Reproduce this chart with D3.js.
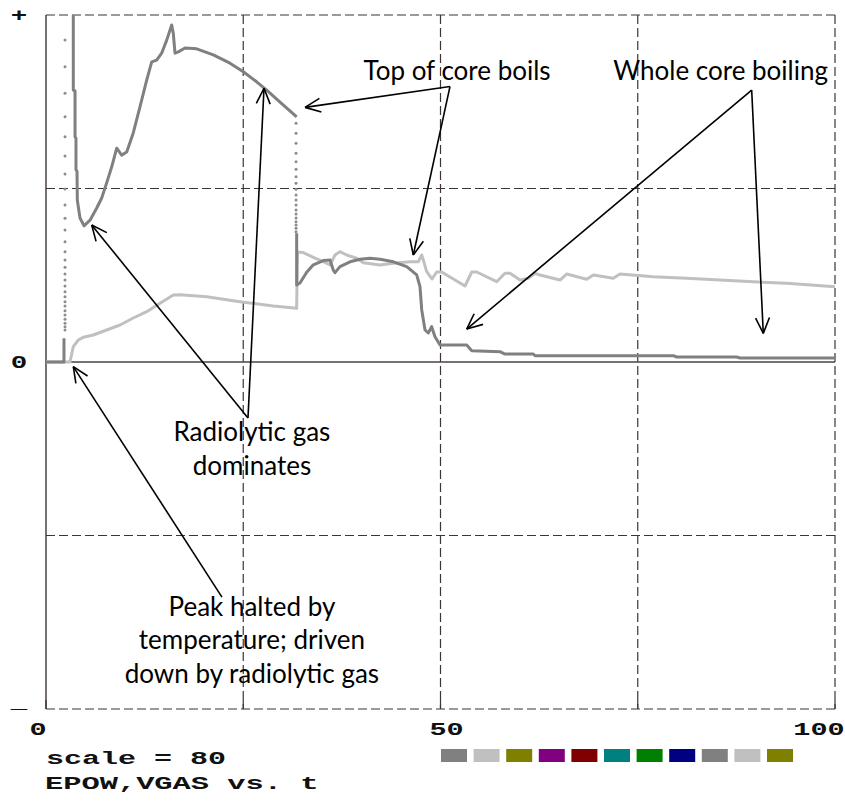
<!DOCTYPE html>
<html>
<head>
<meta charset="utf-8">
<script src="https://cdn.jsdelivr.net/npm/d3@7"></script>
<style>
  html, body { margin: 0; padding: 0; background: #fff; }
  svg { display: block; }
</style>
</head>
<body>
<svg id="chart" width="845" height="804"></svg>
<script>
// ---- data -------------------------------------------------------------
// EPOW (power) trace: time t and value in plot units (full scale = 80)
const epowT = [0, 2.28, 2.28];
const epowV = [0, 0, 5.5];
// exponential power rise sampled at nearly constant t
const riseT = 2.41;
const riseV = [7.38, 8.14, 8.92, 9.84, 10.84, 11.83, 12.91, 13.9, 15.05, 16.21, 17.52, 18.9,
  20.29, 21.83, 23.52, 25.43, 27.74, 30.43, 33.13, 36.2, 39.88, 43.34, 47.49, 51.94,
  56.55, 61.95, 68.08, 74.24];
// main EPOW curve after the excursion comes back on scale
const epowMainT = [3.46, 3.46, 3.68, 3.68, 3.8, 3.8, 3.93, 3.97, 4.31, 4.82, 5.58, 6.43, 7.06,
  7.69, 8.33, 8.96, 9.59, 10.23, 11.06, 11.91, 12.76, 13.4, 14.03, 14.66, 15.3, 15.93,
  16.13, 16.35, 16.77, 17.62, 19.1, 21.2, 23.32, 25.01, 26.7, 27.97, 29.66, 31.77];
const epowMainV = [84, 62.7, 62.5, 51.9, 51.6, 44.3, 44.0, 37.3, 33.2, 31.4, 32.7, 35.5, 37.8,
  41.3, 45.0, 49.3, 47.7, 48.4, 52.8, 58.8, 65.0, 69.2, 69.6, 71.2, 74.2, 77.7,
  75.8, 71.2, 71.5, 72.4, 72.2, 70.8, 68.9, 66.9, 64.6, 62.7, 59.9, 56.5];
// fast power drop sampled at nearly constant t
const dropT = 31.69;
const dropV = [55.03, 52.73, 50.42, 48.12, 46.18, 44.43, 42.72, 41.2, 39.82, 38.5, 37.35,
  36.2, 35.04, 34.12, 33.2, 32.34, 31.58, 30.82, 30.04];
// EPOW after the drop
const epowTailT = [31.77, 31.77, 32.19, 33.04, 33.88, 35.15, 36.0, 36.41, 36.63, 37.26, 38.53,
  39.8, 41.06, 42.33, 44.02, 45.72, 46.98, 47.4, 47.62, 48.04, 48.45, 48.88, 49.3, 49.94,
  50.79, 53.32, 53.96, 57.54, 58.17, 61.76, 61.98, 79.51, 79.94, 87.54, 87.96, 100];
const epowTailV = [29.7, 17.75, 18.2, 20.7, 22.4, 23.4, 23.5, 21.2, 20.6, 22.0, 23.1,
  23.7, 23.9, 23.7, 23.1, 22.0, 20.1, 17.4, 12.0, 7.38, 6.69, 8.14, 5.83, 3.92,
  3.92, 3.92, 2.61, 2.37, 1.84, 1.84, 1.45, 1.45, 1.15, 1.15, 0.92, 0.92];

// VGAS (void / gas volume) trace
const vgasT = [0, 3.04, 3.46, 4.09, 4.73, 5.99, 7.69, 9.38, 11.06, 12.76, 14.45, 16.13, 16.98,
  20.37, 24.59, 28.81, 31.77, 31.88, 32.61, 33.88, 35.15, 36.0, 36.63, 37.26, 38.11,
  39.38, 40.22, 42.33, 44.02, 46.13, 47.19, 47.62, 47.82, 48.25, 48.92, 49.52, 50.15,
  51.2, 53.11, 53.96, 54.59, 57.12, 58.17, 58.81, 60.08, 61.13, 61.98, 62.61, 65.15,
  66.0, 68.53, 69.37, 71.9, 72.75, 76.97, 81.19, 85.42, 89.64, 93.87, 100];
const vgasV = [0, 0, 3.53, 5.07, 5.69, 6.22, 7.38, 8.53, 10.14, 11.6, 13.53, 15.45, 15.52,
  15.05, 13.9, 12.91, 12.38, 25.36, 25.24, 24.14, 23.12, 22.36, 24.67, 25.43, 24.67,
  23.91, 22.89, 22.36, 22.75, 23.12, 23.12, 24.67, 23.52, 20.82, 19.14, 20.75, 20.75,
  19.6, 17.52, 20.75, 20.75, 18.51, 20.45, 20.45, 18.9, 19.3, 20.45, 20.06, 18.9,
  20.29, 19.07, 20.06, 19.3, 20.29, 19.67, 19.3, 18.9, 18.51, 18.14, 17.36];

// axis labels
const xTickValues = [0, 50, 100];
const xGridValues = [0, 25, 50, 75, 100];
const yGridValues = [-80, -40, 0, 40, 80];
const yTickLabels = [{v: 80, text: "+"}, {v: 0, text: "0"}, {v: -80, text: "_"}];
const scaleText = "scale = 80";
const titleText = "EPOW,VGAS vs. t";

// palette swatches along the bottom
const swatchColors = ["#808080", "#c0c0c0", "#808000", "#800080", "#800000", "#008080",
  "#008000", "#000080", "#808080", "#c0c0c0", "#808000"];

// annotations: text lines, anchor (t, v) of the text, and arrow targets (t, v)
const notes = [
  {lines: ["Top of core boils"], at: [52.1, 65], from: [51.2, 63.5],
   targets: [[32.83, 58.7], [46.55, 24.67]]},
  {lines: ["Whole core boiling"], at: [85.5, 65], from: [89.44, 62.7],
   targets: [[53.32, 7.6], [90.91, 6.6]]},
  {lines: ["Radiolytic gas", "dominates"], at: [26.1, -18.3], from: [25.6, -12.9],
   targets: [[5.79, 31.6], [27.63, 63.1]]},
  {lines: ["Peak halted by", "temperature; driven", "down by radiolytic gas"], at: [26.1, -58.5],
   from: [22.3, -54.2], targets: [[3.46, -1.08]]}
];

// ---- drawing ----------------------------------------------------------
const svg = d3.select("#chart");
const plotLeft = 46, plotRight = 835, plotTop = 15, plotBottom = 709;
const x = d3.scaleLinear().domain([0, 100]).range([plotLeft, plotRight]);
const y = d3.scaleLinear().domain([-80, 80]).range([plotBottom, plotTop]);

const frameColor = "#3e3434";

svg.append("defs").append("clipPath").attr("id", "plotClip")
  .append("rect").attr("x", plotLeft).attr("y", plotTop)
  .attr("width", plotRight - plotLeft).attr("height", plotBottom - plotTop);

// dashed grid
const grid = svg.append("g");
grid.selectAll("line.v").data(xGridValues.slice(1)).join("line")
  .attr("x1", d => x(d)).attr("x2", d => x(d)).attr("y1", plotTop).attr("y2", plotBottom)
  .attr("stroke", frameColor).attr("stroke-width", 1.2).attr("stroke-dasharray", "9,4");
grid.selectAll("line.h").data(yGridValues.filter(d => d !== 0)).join("line")
  .attr("x1", plotLeft).attr("x2", plotRight).attr("y1", d => y(d)).attr("y2", d => y(d))
  .attr("stroke", frameColor).attr("stroke-width", 1.2).attr("stroke-dasharray", "9,4");
// solid ticks where grid lines meet the bottom edge
grid.selectAll("line.t").data(xGridValues).join("line")
  .attr("x1", d => x(d)).attr("x2", d => x(d)).attr("y1", plotBottom - 9).attr("y2", plotBottom)
  .attr("stroke", frameColor).attr("stroke-width", 1.2);
// left axis and zero line
svg.append("line").attr("x1", plotLeft).attr("x2", plotLeft).attr("y1", plotTop).attr("y2", plotBottom)
  .attr("stroke", frameColor).attr("stroke-width", 1.4);
svg.append("line").attr("x1", plotLeft).attr("x2", plotRight).attr("y1", y(0)).attr("y2", y(0))
  .attr("stroke", "#4a4242").attr("stroke-width", 1.6);

// traces
const line = d3.line().x(d => x(d[0])).y(d => y(d[1]));
const plot = svg.append("g").attr("clip-path", "url(#plotClip)");
const zip = (a, b) => a.map((t, i) => [t, b[i]]);

plot.append("path").datum(zip(vgasT, vgasV)).attr("d", line)
  .attr("fill", "none").attr("stroke", "#c0c0c0").attr("stroke-width", 3)
  .attr("stroke-linejoin", "round");

const epowStroke = {fill: "none", stroke: "#808080", "stroke-width": 3, "stroke-linejoin": "round"};
[zip(epowT, epowV), zip(epowMainT, epowMainV), zip(epowTailT, epowTailV)].forEach(seg => {
  const p = plot.append("path").datum(seg).attr("d", line);
  Object.entries(epowStroke).forEach(([k, v]) => p.attr(k, v));
});
plot.selectAll("circle.rise").data(riseV).join("circle").attr("class", "rise")
  .attr("cx", x(riseT)).attr("cy", d => y(d)).attr("r", 1.5).attr("fill", "#8c8c8c");
plot.selectAll("circle.drop").data(dropV).join("circle").attr("class", "drop")
  .attr("cx", x(dropT)).attr("cy", d => y(d)).attr("r", 1.5).attr("fill", "#8c8c8c");

// axis labels
const mono = "'Liberation Mono', 'Courier New', monospace";
const lab = svg.append("g").attr("font-family", mono).attr("font-weight", "bold")
  .attr("font-size", 19).attr("fill", "#111");
lab.selectAll("text.x").data(xTickValues).join("text").attr("class", "x")
  .attr("transform", d => `translate(${x(d) + (d === 0 ? -8 : d === 100 ? -16 : 6)},735) scale(1.5,1)`)
  .attr("text-anchor", "middle").text(d => d);
lab.selectAll("text.y").data(yTickLabels).join("text").attr("class", "y")
  .attr("transform", d => `translate(19,${y(d.v) + (d.text === "_" ? -1 : 6)}) scale(1.45,1)`)
  .attr("text-anchor", "middle").text(d => d.text);
lab.append("text").attr("transform", "translate(46,764) scale(1.58,1)").text(scaleText);
lab.append("text").attr("transform", "translate(45,789) scale(1.6,1)").text(titleText);

// palette swatches
svg.append("g").selectAll("rect").data(swatchColors).join("rect")
  .attr("x", (d, i) => 441 + i * 32.6).attr("y", 749).attr("width", 26).attr("height", 13)
  .attr("fill", d => d);

// annotations with open arrowheads
const ann = svg.append("g");
function arrow(g, x1, y1, x2, y2) {
  g.append("line").attr("x1", x1).attr("y1", y1).attr("x2", x2).attr("y2", y2)
    .attr("stroke", "#000").attr("stroke-width", 1.6);
  const a = Math.atan2(y1 - y2, x1 - x2), len = 17, spread = 0.42;
  [a - spread, a + spread].forEach(b => {
    g.append("line").attr("x1", x2).attr("y1", y2)
      .attr("x2", x2 + len * Math.cos(b)).attr("y2", y2 + len * Math.sin(b))
      .attr("stroke", "#000").attr("stroke-width", 1.6);
  });
}
notes.forEach(n => {
  n.targets.forEach(tg => arrow(ann, x(n.from[0]), y(n.from[1]), x(tg[0]), y(tg[1])));
  const t = ann.append("text").attr("font-family", "Lato, 'Open Sans', sans-serif")
    .attr("font-size", 26).attr("fill", "#000").attr("text-anchor", "middle");
  n.lines.forEach((s, i) => t.append("tspan").attr("x", x(n.at[0]))
    .attr("y", y(n.at[1]) + i * 33.5).text(s));
});
</script>
</body>
</html>
